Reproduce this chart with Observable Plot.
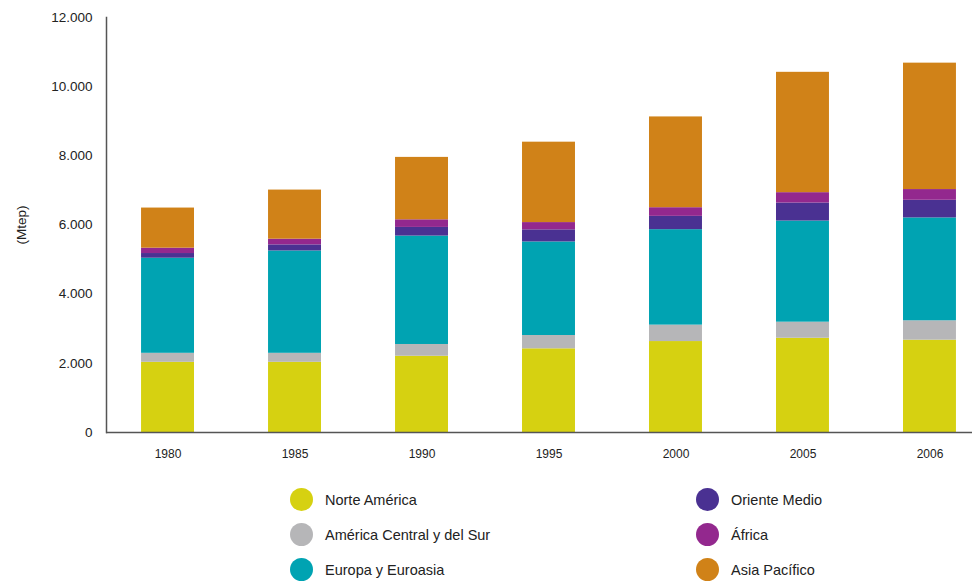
<!DOCTYPE html>
<html>
<head>
<meta charset="utf-8">
<script src="https://cdn.jsdelivr.net/npm/d3@7"></script>
<script src="https://cdn.jsdelivr.net/npm/@observablehq/plot@0.6"></script>
<style>
  body { margin: 0; background: #fff; font-family: "Liberation Sans Narrow", "Arial Narrow", "Liberation Sans", sans-serif; }
  #wrap { position: relative; width: 972px; height: 581px; }
  #legend { position: absolute; left: 0; top: 484px; width: 972px; height: 97px; }
  .item { position: absolute; display: flex; align-items: center; font-size: 14.5px; color: #222; }
  .dot { width: 23px; height: 23px; border-radius: 50%; margin-right: 12px; }
</style>
</head>
<body>
<div id="wrap"><div id="chart"></div><div id="legend"></div></div>
<script>
const years = ["1980", "1985", "1990", "1995", "2000", "2005", "2006"];
const regions = ["Norte América", "América Central y del Sur", "Europa y Euroasia", "Oriente Medio", "África", "Asia Pacífico"];
const colors = ["#d6d111", "#b6b6b8", "#00a3b2", "#4a3192", "#93288e", "#d08218"];
const norteAmerica   = [2030, 2030, 2205, 2420, 2630, 2725, 2670];
const centralSur     = [260, 260, 340, 385, 475, 465, 560];
const europaEuroasia = [2750, 2960, 3135, 2705, 2760, 2925, 2975];
const orienteMedio   = [135, 175, 250, 350, 385, 520, 510];
const africa         = [155, 165, 220, 210, 250, 300, 310];
const asiaPacifico   = [1160, 1420, 1805, 2325, 2625, 3480, 3655];
const yTicks = [0, 2000, 4000, 6000, 8000, 10000, 12000];

const series = [norteAmerica, centralSur, europaEuroasia, orienteMedio, africa, asiaPacifico];
const data = [];
years.forEach((yr, i) => {
  regions.forEach((r, j) => data.push({year: yr, region: r, value: series[j][i]}));
});

const fmt = d => d === 0 ? "0" : d3.format(",")(d).replace(/,/g, ".");

const chart = Plot.plot({
  width: 972,
  height: 470,
  marginLeft: 106,
  marginRight: 0,
  marginTop: 17,
  marginBottom: 38,
  style: { fontFamily: '"Liberation Sans Narrow", "Arial Narrow", "Liberation Sans", sans-serif', fontSize: "13px", color: "#222" },
  x: { domain: years, range: [106, 991], paddingInner: 0.583, paddingOuter: 0.276, round: false, label: null },
  y: { domain: [0, 12000], ticks: yTicks, label: "(Mtep)" },
  color: { domain: regions, range: colors },
  marks: [
    Plot.barY(data, { x: "year", y: "value", fill: "region", order: regions }),
    Plot.axisX({ tickSize: 0, tickPadding: 17, fontSize: 12, label: null }),
    Plot.axisY({ ticks: yTicks, tickSize: 0, tickPadding: 14, tickFormat: fmt, fontSize: 13.5,
                 label: "(Mtep)", labelAnchor: "center", labelOffset: 90, labelArrow: "none" }),
    Plot.frame({ anchor: "left", stroke: "#555", strokeWidth: 1.5 }),
    Plot.ruleY([0], { stroke: "#555", strokeWidth: 1.5 })
  ]
});
document.getElementById("chart").appendChild(chart);

const legend = document.getElementById("legend");
const pos = [[290, 16], [290, 51], [290, 86], [696, 16], [696, 51], [696, 86]];
regions.forEach((r, j) => {
  const it = document.createElement("div");
  it.className = "item";
  it.style.left = pos[j][0] + "px";
  it.style.top = (pos[j][1] - 12) + "px";
  it.innerHTML = `<span class="dot" style="background:${colors[j]}"></span><span>${r}</span>`;
  legend.appendChild(it);
});
</script>
</body>
</html>
